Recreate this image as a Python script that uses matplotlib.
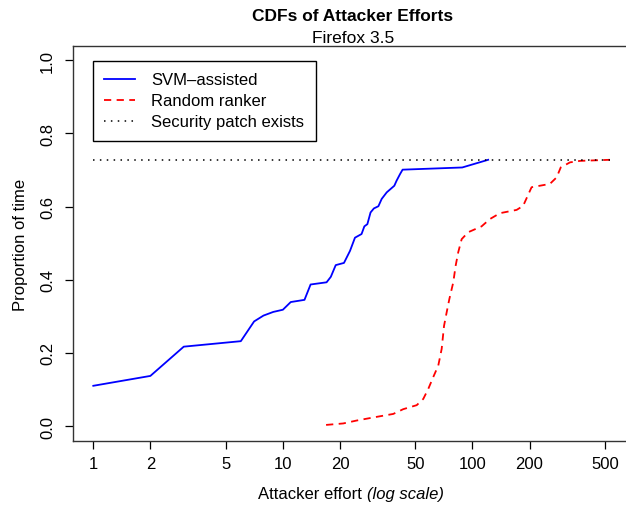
import numpy as np
import matplotlib
matplotlib.use("Agg")
import matplotlib.pyplot as plt

plt.rcParams['font.family'] = ['Liberation Sans', 'DejaVu Sans']

# SVM-assisted CDF (effort, proportion)
svm_x = [1, 2, 3, 6, 7.05, 7.9, 8.9, 10, 11, 13, 14, 17, 17.9, 19, 21, 22.6,
         24, 26, 26.9, 27.9, 29, 30.2, 31.9, 33.2, 35.3, 38.7, 39.8, 41.5,
         42.8, 88.3, 121]
svm_y = [0.110, 0.137, 0.217, 0.232, 0.286, 0.302, 0.312, 0.318, 0.339, 0.345,
         0.387, 0.393, 0.408, 0.440, 0.446, 0.479, 0.515, 0.525, 0.546, 0.552,
         0.584, 0.595, 0.601, 0.621, 0.639, 0.657, 0.671, 0.689, 0.701, 0.707,
         0.728]

# Random ranker CDF
rnd_x = [16.9, 20.8, 24.5, 31.2, 38.2, 43.1, 50.8, 55.0, 58.4, 62.6, 66.0,
         68.8, 70.8, 73.1, 75.5, 79.2, 81.5, 84.1, 87.7, 95.0, 111.7, 123.6,
         139.6, 171, 185, 205, 256, 278, 292, 327, 369, 531]
rnd_y = [0.003, 0.007, 0.015, 0.025, 0.033, 0.046, 0.057, 0.074, 0.101, 0.138,
         0.165, 0.211, 0.274, 0.311, 0.347, 0.393, 0.438, 0.475, 0.511, 0.530,
         0.546, 0.566, 0.582, 0.591, 0.602, 0.653, 0.662, 0.680, 0.707, 0.721,
         0.725, 0.728]

patch_level = 0.728
patch_x = [1, 531]

xticks = [1, 2, 5, 10, 20, 50, 100, 200, 500]
yticks = [0.0, 0.2, 0.4, 0.6, 0.8, 1.0]

W, H = 626, 506
fig = plt.figure(figsize=(W / 100, H / 100), dpi=100)
left, right, top, bottom = 72.5, 634, 46.7, 442.3
ax = fig.add_axes([left / W, 1 - bottom / H, (right - left) / W, (bottom - top) / H])

ax.plot(svm_x, svm_y, color='#0000FF', lw=1.3, label='SVM\u2013assisted')
ax.plot(rnd_x, rnd_y, color='#FF0000', lw=1.3, dashes=(4, 3), label='Random ranker')
ax.plot(patch_x, [patch_level, patch_level], color='black', lw=1.1,
        dashes=(1, 3.5), label='Security patch exists')

ax.set_xscale('log')
ax.set_xlim(10 ** -0.1097, 10 ** 2.852)
ax.set_ylim(-0.0418, 1.040)
ax.set_xticks(xticks)
ax.set_xticklabels([str(t) for t in xticks])
ax.minorticks_off()
ax.set_yticks(yticks)
ax.set_yticklabels(['%.1f' % t for t in yticks], rotation=90, va='center')
ax.tick_params(direction='out', length=5.5, width=0.9, labelsize=12, pad=5,
               colors='black')
ax.tick_params(axis='y', pad=7)
for s in ax.spines.values():
    s.set_linewidth(1.0)
    s.set_color('#333333')

ax.set_ylabel('Proportion of time', fontsize=12, labelpad=9)

leg = ax.legend(loc='upper left', bbox_to_anchor=(93 / W, 1 - 62 / H),
                bbox_transform=fig.transFigure, borderaxespad=0,
                fancybox=False, framealpha=1, edgecolor='black',
                fontsize=12, handlelength=1.86, handletextpad=0.95,
                labelspacing=0.36, borderpad=0.68)
leg.get_frame().set_linewidth(1.0)

fig.text(353 / W, 1 - 20.7 / H, 'CDFs of Attacker Efforts', ha='center',
         va='baseline', fontsize=12.5, fontweight='bold')
fig.text(353 / W, 1 - 43.3 / H, 'Firefox 3.5', ha='center', va='baseline',
         fontsize=12.5)

# x label with italic part, centred as a whole
fig.canvas.draw()
r = fig.canvas.get_renderer()
t1 = fig.text(0, 1 - 499 / H, 'Attacker effort ', fontsize=12, va='baseline')
t2 = fig.text(0, 1 - 499 / H, '(log scale)', fontsize=12, va='baseline',
              style='italic')
w1 = t1.get_window_extent(r).width
w2 = t2.get_window_extent(r).width
x0 = 351 - (w1 + w2) / 2
t1.set_x(x0 / W)
t2.set_x((x0 + w1) / W)

fig.savefig('out.png', dpi=100)
